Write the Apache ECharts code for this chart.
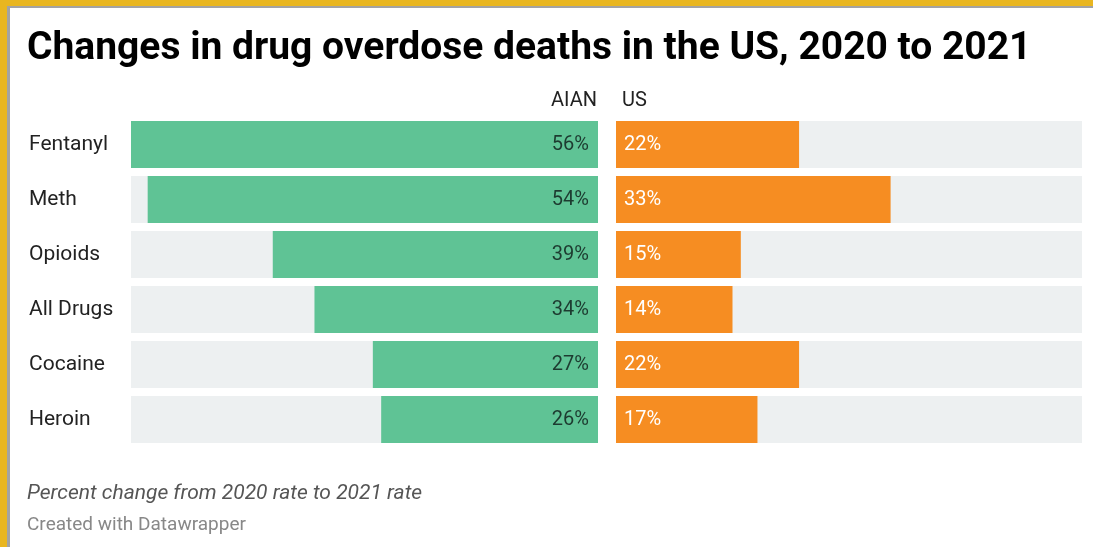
<!DOCTYPE html>
<html>
<head>
<meta charset="utf-8">
<script src="https://cdn.jsdelivr.net/npm/echarts@6/dist/echarts.min.js"></script>
<style>
  html, body { margin: 0; padding: 0; background: #fff; }
  #chart { width: 1093px; height: 547px; }
</style>
</head>
<body>
<div id="chart"></div>
<script>
// Drug categories, top to bottom
const categories = ['Fentanyl', 'Meth', 'Opioids', 'All Drugs', 'Cocaine', 'Heroin'];
// Percent change, 2020 to 2021
const aianValues = [56, 54, 39, 34, 27, 26];
const usValues = [22, 33, 15, 14, 22, 17];
const columnHeaders = ['AIAN', 'US'];
const scaleMax = 56;

const FONT = 'Roboto, "Noto Sans", sans-serif';
const chart = echarts.init(document.getElementById('chart'), null, { renderer: 'canvas' });

const trackColor = '#edf0f1';

chart.setOption({
  animation: false,
  backgroundColor: '#ffffff',
  title: {
    text: 'Changes in drug overdose deaths in the US, 2020 to 2021',
    left: 22, top: 25,
    textStyle: { fontFamily: FONT, fontWeight: 'bold', fontSize: 39, color: '#000000' }
  },
  grid: [
    { left: 131, width: 467, top: 117, height: 330 },
    { left: 616, width: 466, top: 117, height: 330 }
  ],
  xAxis: [
    { gridIndex: 0, type: 'value', min: 0, max: scaleMax, inverse: true, show: false },
    { gridIndex: 1, type: 'value', min: 0, max: scaleMax, show: false }
  ],
  yAxis: [
    {
      gridIndex: 0, type: 'category', data: categories, inverse: true,
      axisLine: { show: false }, axisTick: { show: false },
      axisLabel: { margin: 102, align: 'left', fontFamily: FONT, fontSize: 21, color: '#222222' }
    },
    {
      gridIndex: 1, type: 'category', data: categories, inverse: true,
      axisLine: { show: false }, axisTick: { show: false }, axisLabel: { show: false }
    }
  ],
  series: [
    {
      name: columnHeaders[0], type: 'bar', xAxisIndex: 0, yAxisIndex: 0,
      data: aianValues, barWidth: 47,
      itemStyle: { color: '#5fc395' },
      showBackground: true, backgroundStyle: { color: trackColor },
      label: {
        show: true, position: 'insideRight', distance: 9,
        formatter: p => p.value + '%',
        fontFamily: FONT, fontSize: 20, color: '#1d3b30'
      }
    },
    {
      name: columnHeaders[1], type: 'bar', xAxisIndex: 1, yAxisIndex: 1,
      data: usValues, barWidth: 47,
      itemStyle: { color: '#f68d22' },
      showBackground: true, backgroundStyle: { color: trackColor },
      label: {
        show: true, position: 'insideLeft', distance: 8,
        formatter: p => p.value + '%',
        fontFamily: FONT, fontSize: 20, color: '#ffffff'
      }
    }
  ],
  graphic: [
    // frame edges
    { type: 'rect', left: 0, top: 0, shape: { width: 1093, height: 6 }, style: { fill: '#e9b620' }, silent: true },
    { type: 'rect', left: 0, top: 0, shape: { width: 7, height: 547 }, style: { fill: '#e9b620' }, silent: true },
    { type: 'rect', left: 7, top: 6, shape: { width: 1086, height: 2 }, style: { fill: '#a3a3a3' }, silent: true },
    { type: 'rect', left: 7, top: 6, shape: { width: 3, height: 541 }, style: { fill: '#a3a3a3' }, silent: true },
    // column headers
    { type: 'text', right: 1093 - 597, top: 91, style: { text: columnHeaders[0], fontFamily: FONT, fontSize: 20, fill: '#222222' } },
    { type: 'text', left: 622, top: 91, style: { text: columnHeaders[1], fontFamily: FONT, fontSize: 20, fill: '#222222' } },
    // notes
    { type: 'text', left: 27, top: 483, style: { text: 'Percent change from 2020 rate to 2021 rate', fontFamily: FONT, fontStyle: 'italic', fontSize: 21, fill: '#555555' } },
    { type: 'text', left: 27, top: 516, style: { text: 'Created with Datawrapper', fontFamily: FONT, fontSize: 19, fill: '#888888' } }
  ]
});
</script>
</body>
</html>
